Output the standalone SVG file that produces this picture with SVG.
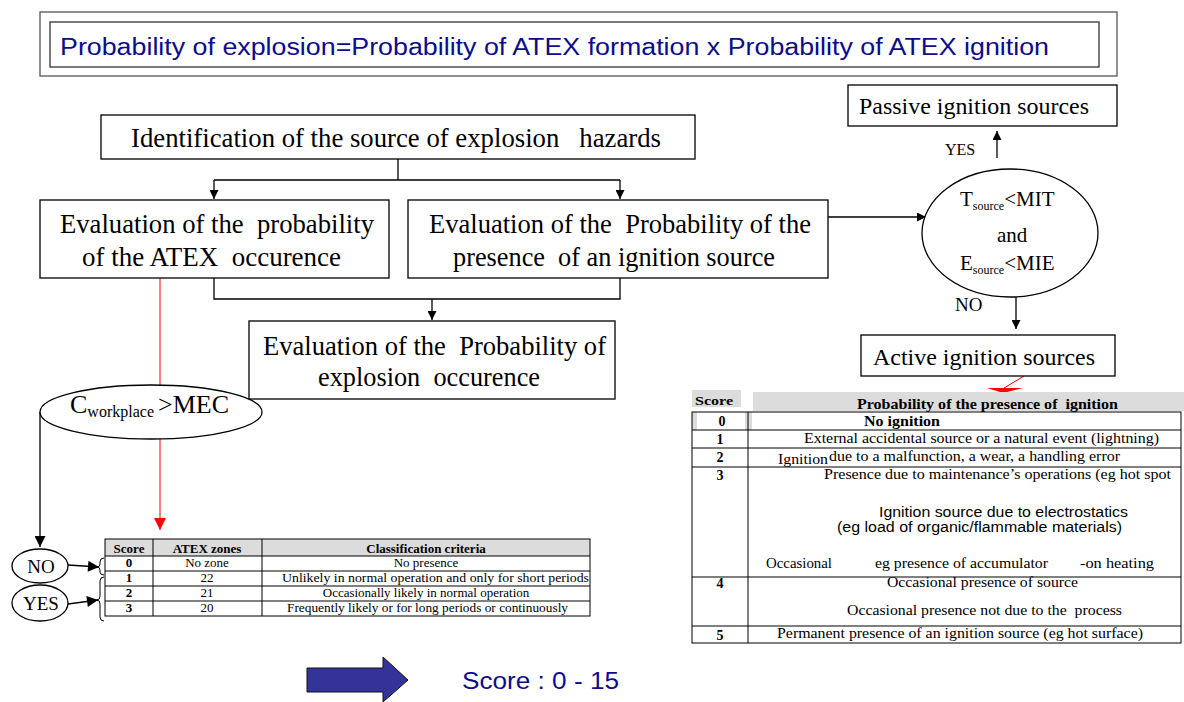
<svg xmlns="http://www.w3.org/2000/svg" width="1184" height="702" viewBox="0 0 1184 702">
<style>
text { white-space: pre; }
.serif { font-family: "Liberation Serif", "Times New Roman", serif; fill: #000; }
.sans { font-family: "Liberation Sans", Arial, sans-serif; }
.box { fill: #fff; stroke: #000; stroke-width: 1.3; }
.ln { fill: none; stroke: #000; stroke-width: 1.3; }
.tl { fill: none; stroke: #000; stroke-width: 1; }
.hd { fill: #dcdcdc; }
.fc { font-size: 26.5px; }
.tb { font-size: 13px; }
.rt { font-size: 14px; }
.b { font-weight: bold; }
.mid { text-anchor: middle; }
.blue { fill: #0c0c8c; }
</style>
<defs>
<marker id="ah" viewBox="0 0 10 10" refX="10" refY="5" markerWidth="9" markerHeight="9" markerUnits="userSpaceOnUse" orient="auto">
<path d="M0,0 L10,5 L0,10 z" fill="#000"/>
</marker>
<marker id="ahb" viewBox="0 0 10 10" refX="10" refY="5" markerWidth="12" markerHeight="11" markerUnits="userSpaceOnUse" orient="auto">
<path d="M0,0 L10,5 L0,10 z" fill="#000"/>
</marker>
<marker id="ahr" viewBox="0 0 10 10" refX="10" refY="5" markerWidth="12" markerHeight="12" markerUnits="userSpaceOnUse" orient="auto">
<path d="M0,0 L10,5 L0,10 z" fill="#f00"/>
</marker>
</defs>

<g id="title">
<rect x="40" y="12" width="1077" height="64" fill="#fff" stroke="#555" stroke-width="1.3"/>
<rect x="50" y="22" width="1049" height="45" fill="#fff" stroke="#333" stroke-width="1.3"/>
<text class="sans blue" x="60" y="55" font-size="23" textLength="989" lengthAdjust="spacingAndGlyphs">Probability of explosion=Probability of ATEX formation x Probability of ATEX ignition</text>
</g>

<g id="connectors">
<path class="ln" d="M398,159 V180 M214,180 H620"/>
<path class="ln" d="M214,180 V199" marker-end="url(#ah)"/>
<path class="ln" d="M620,180 V199" marker-end="url(#ah)"/>
<path class="ln" d="M214,278 V299 H620 V278"/>
<path class="ln" d="M432,299 V320" marker-end="url(#ah)"/>
<path class="ln" d="M827,217 H926" marker-end="url(#ah)"/>
<path class="ln" d="M997,158 V131" marker-end="url(#ah)"/>
<path class="ln" d="M1016,284 V329" marker-end="url(#ah)"/>
<path fill="none" stroke="#f00" stroke-width="1" d="M160,278 V530" marker-end="url(#ahr)"/>
<path fill="none" stroke="#f00" stroke-width="1" d="M1024,376 L1004,388"/>
<polygon points="987,388 1023,388 1003,393" fill="#f00"/>
<path class="ln" d="M40,412 V547" marker-end="url(#ahb)"/>
<path class="ln" d="M68,565 L99,567" marker-end="url(#ahb)"/>
<path class="ln" d="M68,604 L98,600" marker-end="url(#ahb)"/>
<path class="tl" d="M104,558 Q100,558 100,562 L100,564 Q100,567 97,567 Q100,567 100,570 L100,572 Q100,575 104,575"/>
<path class="tl" d="M104,577 Q100,577 100,581 L100,596 Q100,600 97,600 Q100,600 100,604 L100,617 Q100,621 104,621"/>
</g>

<g id="passive">
<rect class="box" x="848" y="85" width="269" height="41"/>
<text class="serif" x="859" y="114" font-size="23.5" textLength="230" lengthAdjust="spacingAndGlyphs">Passive ignition sources</text>
</g>

<g id="identification">
<rect class="box" x="101" y="115" width="594" height="44"/>
<text class="serif fc" x="131" y="147" textLength="530" lengthAdjust="spacingAndGlyphs">Identification of the source of explosion   hazards</text>
</g>

<g id="eval-atex">
<rect class="box" x="40" y="200" width="349" height="78"/>
<text class="serif fc" x="60" y="233" textLength="314" lengthAdjust="spacingAndGlyphs">Evaluation of the  probability</text>
<text class="serif fc" x="82" y="266" textLength="259" lengthAdjust="spacingAndGlyphs">of the ATEX  occurence</text>
</g>

<g id="eval-ignition">
<rect class="box" x="408" y="200" width="420" height="78"/>
<text class="serif fc" x="429" y="233" textLength="382" lengthAdjust="spacingAndGlyphs">Evaluation of the  Probability of the</text>
<text class="serif fc" x="453" y="266" textLength="322" lengthAdjust="spacingAndGlyphs">presence  of an ignition source</text>
</g>

<g id="eval-explosion">
<rect class="box" x="249" y="321" width="366" height="78"/>
<text class="serif fc" x="263" y="355" textLength="343" lengthAdjust="spacingAndGlyphs">Evaluation of the  Probability of</text>
<text class="serif fc" x="318" y="386" textLength="222" lengthAdjust="spacingAndGlyphs">explosion  occurence</text>
</g>

<g id="condition-ignition">
<ellipse class="box" cx="1010" cy="233" rx="88" ry="64"/>
<text class="serif" x="960" y="206" font-size="21">T<tspan font-size="12" dy="4">source</tspan><tspan dy="-4">&lt;MIT</tspan></text>
<text class="serif" x="997" y="242" font-size="21">and</text>
<text class="serif" x="960" y="270" font-size="21">E<tspan font-size="12" dy="4">source</tspan><tspan dy="-4">&lt;MIE</tspan></text>
<text class="serif" x="945" y="155" font-size="16">YES</text>
<text class="serif" x="955" y="311" font-size="19">NO</text>
</g>

<g id="active">
<rect class="box" x="861" y="335" width="254" height="41"/>
<text class="serif" x="873" y="365" font-size="23.5" textLength="222" lengthAdjust="spacingAndGlyphs">Active ignition sources</text>
</g>

<g id="condition-mec">
<ellipse class="box" cx="151" cy="412" rx="111" ry="27"/>
<text class="serif" x="70" y="413" font-size="26">C<tspan font-size="16" dy="4">workplace </tspan><tspan dy="-4">&gt;MEC</tspan></text>
</g>

<g id="no-node">
<ellipse class="box" cx="40" cy="566" rx="28" ry="17"/>
<text class="serif mid" x="41" y="573" font-size="19">NO</text>
</g>
<g id="yes-node">
<ellipse class="box" cx="40" cy="603" rx="28" ry="18"/>
<text class="serif mid" x="41" y="610" font-size="19">YES</text>
</g>

<g id="atex-table">
<rect class="hd" x="105" y="539" width="485" height="17"/>
<rect class="tl" x="105" y="539" width="485" height="77"/>
<path class="tl" d="M105,556 H590 M105,571 H590 M105,586 H590 M105,601 H590 M153,539 V616 M262,539 V616"/>
<text class="serif tb b mid" x="129" y="553">Score</text>
<text class="serif tb b mid" x="207" y="553">ATEX zones</text>
<text class="serif tb b mid" x="426" y="553">Classification criteria</text>
<text class="serif tb b mid" x="129" y="567">0</text>
<text class="serif tb mid" x="207" y="567">No zone</text>
<text class="serif tb mid" x="426" y="567">No presence</text>
<text class="serif tb b mid" x="129" y="582">1</text>
<text class="serif tb mid" x="207" y="582">22</text>
<text class="serif tb" x="282" y="582" textLength="307" lengthAdjust="spacingAndGlyphs">Unlikely in normal operation and only for short periods</text>
<text class="serif tb b mid" x="129" y="597">2</text>
<text class="serif tb mid" x="207" y="597">21</text>
<text class="serif tb mid" x="426" y="597">Occasionally likely in normal operation</text>
<text class="serif tb b mid" x="129" y="612">3</text>
<text class="serif tb mid" x="207" y="612">20</text>
<text class="serif tb" x="287" y="612" textLength="281" lengthAdjust="spacingAndGlyphs">Frequently likely or for long periods or continuously</text>
</g>

<g id="ignition-table">
<rect class="hd" x="692" y="390" width="49" height="17"/>
<rect class="hd" x="753" y="392" width="431" height="19"/>
<rect class="hd" x="692" y="412" width="5" height="18"/>
<rect class="hd" x="745" y="412" width="7" height="18"/>
<rect class="tl" x="692" y="412" width="489" height="231"/>
<path class="tl" d="M692,430 H1181 M692,448 H1181 M692,467 H1181 M692,577 H1181 M692,626 H1181 M748,412 V643"/>
<text class="serif b" x="695" y="405" font-size="13" textLength="38" lengthAdjust="spacingAndGlyphs">Score</text>
<text class="serif b rt" x="857" y="409" textLength="261" lengthAdjust="spacingAndGlyphs">Probability of the presence of  ignition</text>
<text class="serif b rt mid" x="722" y="426">0</text>
<text class="serif b rt" x="864" y="426" textLength="76" lengthAdjust="spacingAndGlyphs">No ignition</text>
<text class="serif b rt mid" x="720" y="444">1</text>
<text class="serif rt" x="804" y="443" textLength="355" lengthAdjust="spacingAndGlyphs">External accidental source or a natural event (lightning)</text>
<text class="serif b rt mid" x="720" y="462">2</text>
<text class="serif rt" x="778" y="464" textLength="50" lengthAdjust="spacingAndGlyphs">Ignition</text>
<text class="serif rt" x="829" y="461" textLength="291" lengthAdjust="spacingAndGlyphs">due to a malfunction, a wear, a handling error</text>
<text class="serif b rt mid" x="720" y="480">3</text>
<text class="serif rt" x="824" y="479" textLength="347" lengthAdjust="spacingAndGlyphs">Presence due to maintenance’s operations (eg hot spot</text>
<text class="sans rt" x="879" y="517" textLength="249" lengthAdjust="spacingAndGlyphs">Ignition source due to electrostatics</text>
<text class="sans rt" x="837" y="532" textLength="285" lengthAdjust="spacingAndGlyphs">(eg load of organic/flammable materials)</text>
<text class="serif rt" x="766" y="568" textLength="66" lengthAdjust="spacingAndGlyphs">Occasional</text>
<text class="serif rt" x="875" y="568" textLength="173" lengthAdjust="spacingAndGlyphs">eg presence of accumulator</text>
<text class="serif rt" x="1080" y="568" textLength="74" lengthAdjust="spacingAndGlyphs">-on heating</text>
<text class="serif b rt mid" x="720" y="588">4</text>
<text class="serif rt" x="887" y="587" textLength="191" lengthAdjust="spacingAndGlyphs">Occasional presence of source</text>
<text class="serif rt" x="847" y="615" textLength="275" lengthAdjust="spacingAndGlyphs">Occasional presence not due to the  process</text>
<text class="serif b rt mid" x="720" y="640">5</text>
<text class="serif rt" x="777" y="638" textLength="366" lengthAdjust="spacingAndGlyphs">Permanent presence of an ignition source (eg hot surface)</text>
</g>

<g id="score-arrow">
<polygon points="307,668 383,668 383,657 408,680 383,702 383,692 307,692" fill="#333399" stroke="#111" stroke-width="1"/>
<text class="sans blue" x="462" y="689" font-size="24" textLength="157" lengthAdjust="spacingAndGlyphs">Score : 0 - 15</text>
</g>
</svg>
